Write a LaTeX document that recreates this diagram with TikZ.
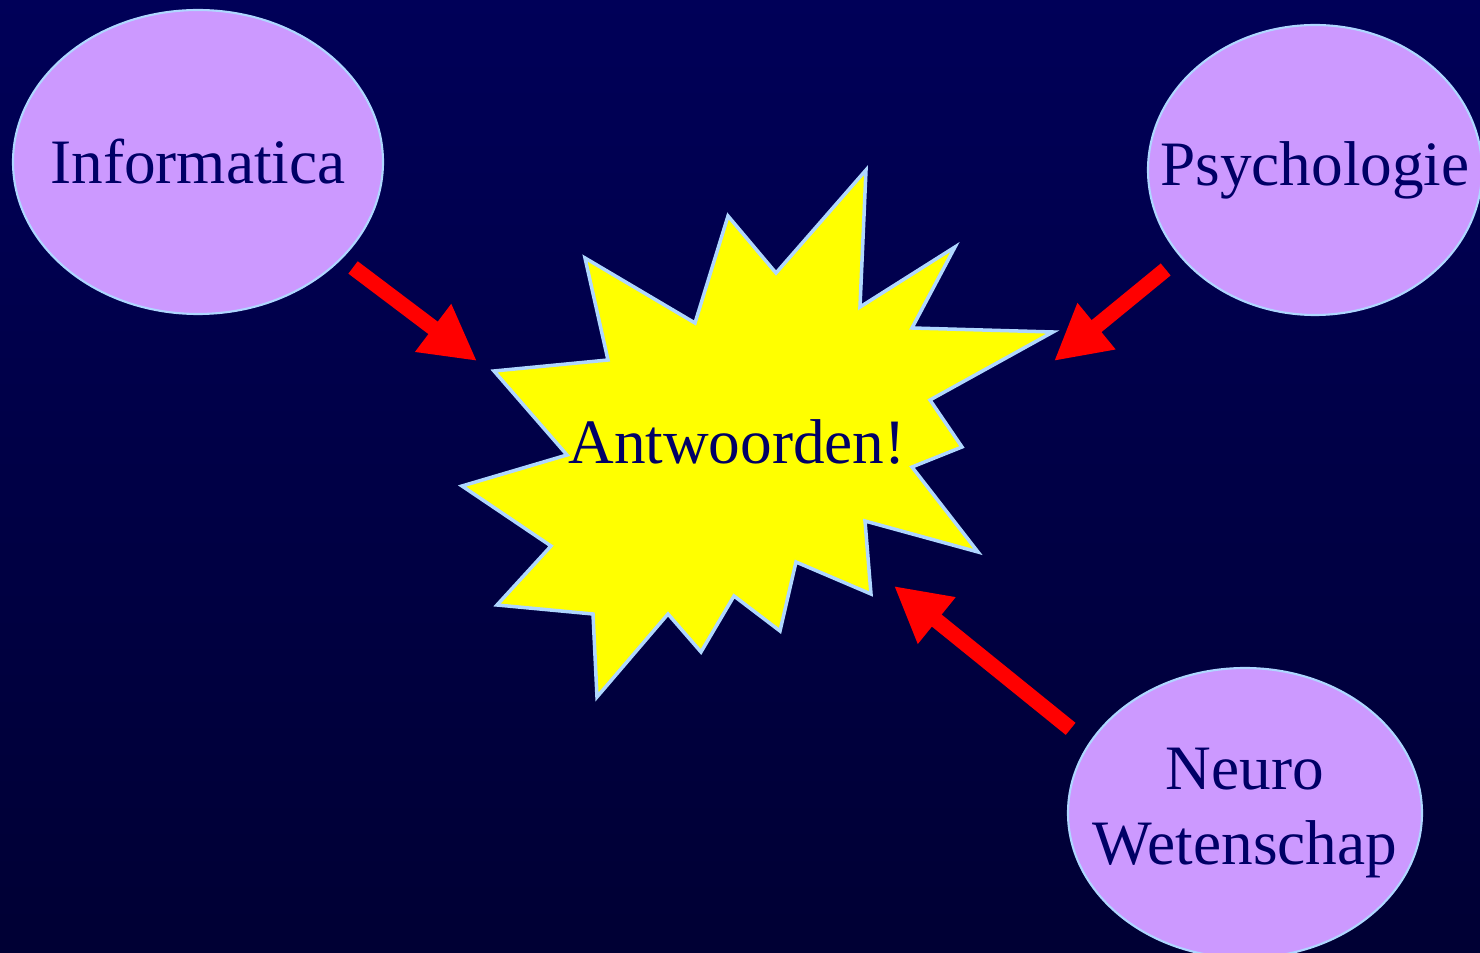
\documentclass[tikz,border=0pt]{standalone}
\usepackage{fontspec}
\setmainfont{Liberation Serif}
\usetikzlibrary{shapes.geometric,arrows.meta}
\definecolor{SlideTop}{RGB}{0,0,88}
\definecolor{SlideBottom}{RGB}{0,0,52}
\definecolor{TopicLilac}{RGB}{204,153,255}
\definecolor{EdgeBlue}{RGB}{175,215,255}
\definecolor{InkNavy}{RGB}{0,0,102}
\definecolor{BurstYellow}{RGB}{255,255,0}
\definecolor{PointRed}{RGB}{255,0,0}

\begin{document}
\begin{tikzpicture}[
  topic/.style={ellipse,draw=EdgeBlue,line width=0.6pt,fill=TopicLilac,
                minimum width=3.7cm,minimum height=3.04cm,inner sep=-1cm,
                text=InkNavy,font=\fontsize{18}{21.6}\selectfont,align=center},
  burst/.style={draw=EdgeBlue,line width=1pt,fill=BurstYellow,line join=miter},
  pointer/.style={draw=PointRed,line width=0.155cm,-{Triangle[length=0.55cm,width=0.56cm]}},
]
\useasboundingbox (0,0) rectangle (14.8,-9.53);
\fill[top color=SlideTop,bottom color=SlideBottom] (0,0) rectangle (14.8,-9.53);

% the burst in the middle
\draw[burst] (5.85,-2.58) -- (6.95,-3.23) -- (7.28,-2.16) -- (7.76,-2.73) -- (8.66,-1.70)
  -- (8.60,-3.07) -- (9.55,-2.47) -- (9.12,-3.28) -- (10.53,-3.32) -- (9.30,-4.00)
  -- (9.62,-4.47) -- (9.12,-4.67) -- (9.78,-5.52) -- (8.65,-5.21) -- (8.71,-5.94)
  -- (7.96,-5.62) -- (7.80,-6.31) -- (7.34,-5.96) -- (7.01,-6.52) -- (6.68,-6.14)
  -- (5.97,-6.97) -- (5.93,-6.14) -- (4.97,-6.05) -- (5.51,-5.46) -- (4.62,-4.86)
  -- (5.67,-4.55) -- (4.94,-3.71) -- (6.08,-3.60) -- cycle;
\node[text=InkNavy,font=\fontsize{18}{21.6}\selectfont] (answer) at (7.37,-4.42) {Antwoorden!};

\node[topic] (info) at (1.98,-1.62) {Informatica};
\node[topic,minimum width=3.34cm,minimum height=2.90cm] (psych) at (13.15,-1.70) {Psychologie};
\node[topic,minimum width=3.54cm,minimum height=2.90cm] (neuro) at (12.45,-8.13) {Neuro\\Wetenschap};

\coordinate (tipinfo) at (4.77,-3.61);
\coordinate (tippsych) at (10.54,-3.61);
\coordinate (tipneuro) at (8.94,-5.86);

\draw[pointer,shorten <=0.14cm] (info.-34) -- (tipinfo);
\draw[pointer,shorten <=0.19cm] (psych.213) -- (tippsych);
\draw[pointer,shorten <=0.23cm] (neuro.156) -- (tipneuro);
\end{tikzpicture}
\end{document}
